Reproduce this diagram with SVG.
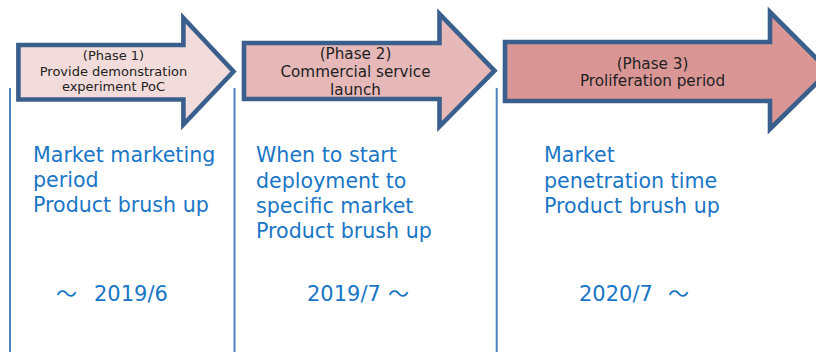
<svg xmlns="http://www.w3.org/2000/svg" width="816" height="352" viewBox="0 0 816 352">
<style>
.arrow{stroke:#3B5F8D;stroke-width:4.6;stroke-linejoin:miter;stroke-miterlimit:10}
.lbl{font-family:"DejaVu Sans","Noto Sans",sans-serif;fill:#222;text-anchor:middle}
.body{font-family:"DejaVu Sans","Noto Sans",sans-serif;fill:#1A76C6;font-size:20.6px}
.date{font-family:"DejaVu Sans","Noto Sans CJK JP",sans-serif;fill:#1A76C6;font-size:21px}
.tl{font-family:"Noto Sans CJK JP","DejaVu Sans",sans-serif}
.div{stroke:#4F81BD;stroke-width:2;fill:none}
</style>
<rect width="816" height="352" fill="#fff"/>
<g id="dividers">
<line class="div" x1="10" y1="88" x2="10" y2="352"/>
<line class="div" x1="234.5" y1="88" x2="234.5" y2="352"/>
<line class="div" x1="496.7" y1="88" x2="496.7" y2="352"/>
</g>
<g id="phase1">
<path class="arrow" fill="#F2DCDB" d="M18.4,45 H183.4 V18 L233.5,71.5 L183.4,124.5 V99.5 H18.4 Z"/>
<text class="lbl" font-size="13px"><tspan x="113.5" y="60">(Phase 1)</tspan><tspan x="113.5" y="75.5">Provide demonstration</tspan><tspan x="113.5" y="90.5">experiment PoC</tspan></text>
<text class="body"><tspan x="33" y="162">Market marketing</tspan><tspan x="33" y="187">period</tspan><tspan x="33" y="212">Product brush up</tspan></text>
<text class="date"><tspan class="tl" x="56" y="301">～</tspan><tspan x="94" y="301">2019/6</tspan></text>
</g>
<g id="phase2">
<path class="arrow" fill="#E6B9B8" d="M244,43 H439.5 V14 L494.5,70.7 L439.5,126.5 V99 H244 Z"/>
<text class="lbl" font-size="15.2px"><tspan x="355.5" y="59">(Phase 2)</tspan><tspan x="355.5" y="77">Commercial service</tspan><tspan x="355.5" y="94.5">launch</tspan></text>
<text class="body"><tspan x="256" y="162.3">When to start</tspan><tspan x="256" y="187.6">deployment to</tspan><tspan x="256" y="212.9">specific market</tspan><tspan x="256" y="238.2">Product brush up</tspan></text>
<text class="date"><tspan x="307" y="300.5">2019/7</tspan><tspan class="tl" x="388" y="300.5">～</tspan></text>
</g>
<g id="phase3">
<path class="arrow" fill="#D99694" d="M505,42 H770 V12 L829,71 L770,129 V101 H505 Z"/>
<text class="lbl" font-size="15.2px"><tspan x="652.5" y="69">(Phase 3)</tspan><tspan x="652.5" y="86">Proliferation period</tspan></text>
<text class="body"><tspan x="544" y="162">Market</tspan><tspan x="544" y="188">penetration time</tspan><tspan x="544" y="213">Product brush up</tspan></text>
<text class="date"><tspan x="579" y="300.5">2020/7</tspan><tspan class="tl" x="668" y="300.5">～</tspan></text>
</g>
</svg>
